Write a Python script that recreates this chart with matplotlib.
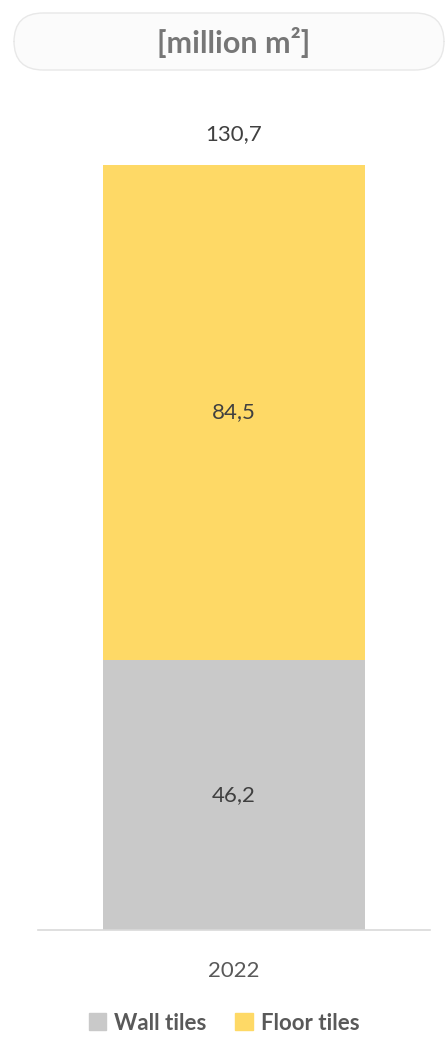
import matplotlib.pyplot as plt
from matplotlib.patches import FancyBboxPatch, Patch

years = ['2022']
wall = [46.2]
floor = [84.5]
total = [130.7]
series_names = ['Wall tiles', 'Floor tiles']
colors = ['#c9c9c9', '#fed966']

plt.rcParams['font.family'] = ['Lato', 'DejaVu Sans']

fig = plt.figure(figsize=(4.48, 10.58), dpi=100)

# title pill
pill = FancyBboxPatch((14 / 448, 1 - 70 / 1058), 430 / 448, 57 / 1058,
                      boxstyle='round,pad=0,rounding_size=0.065',
                      transform=fig.transFigure, facecolor='#fbfbfb',
                      edgecolor='#e8e8e8', linewidth=1.0, mutation_aspect=0.42)
fig.patches.append(pill)
fig.text(234 / 448, 1 - 42 / 1058, '[million m²]', ha='center', va='center',
         fontsize=22, fontweight='bold', color='#767676')

ax = fig.add_axes([38 / 448, (1058 - 930) / 1058, 392 / 448, 765 / 1058])
ax.bar(years, wall, width=0.67, color=colors[0])
ax.bar(years, floor, bottom=wall, width=0.67, color=colors[1])
ax.set_xlim(-0.5, 0.5)
ax.set_ylim(0, total[0])

for x, w, f, t in zip(years, wall, floor, total):
    ax.text(x, w / 2, f'{w:.1f}'.replace('.', ','), ha='center', va='center',
            fontsize=16, color='#404040')
    ax.text(x, w + f / 2, f'{f:.1f}'.replace('.', ','), ha='center', va='center',
            fontsize=16, color='#404040')
    ax.text(x, t + 3.6, f'{t:.1f}'.replace('.', ','), ha='center', va='bottom',
            fontsize=16, color='#404040', clip_on=False)

for s in ['top', 'right', 'left']:
    ax.spines[s].set_visible(False)
ax.spines['bottom'].set_color('#d9d9d9')
ax.spines['bottom'].set_linewidth(1.2)
ax.set_yticks([])
ax.tick_params(axis='x', length=0, pad=22, labelsize=16, labelcolor='#595959')

handles = [Patch(color=c) for c in colors]
fig.legend(handles, series_names, loc='center', bbox_to_anchor=(0.5, 1 - 1023 / 1058),
           ncol=2, frameon=False, handlelength=0.8, handleheight=0.8,
           handletextpad=0.35, columnspacing=1.3,
           prop={'weight': 'bold', 'size': 16}, labelcolor='#595959')

fig.savefig('out.png', dpi=100)
